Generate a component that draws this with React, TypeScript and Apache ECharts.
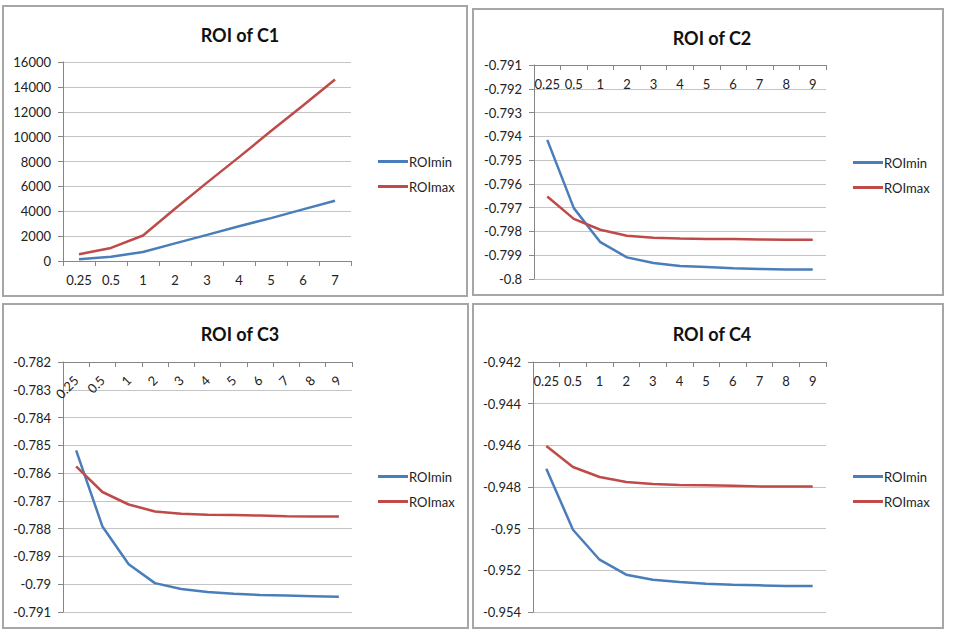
import React, { useEffect, useRef } from "react";
import * as echarts from "echarts";

const catsC1 = ["0.25", "0.5", "1", "2", "3", "4", "5", "6", "7"];
const catsC234 = ["0.25", "0.5", "1", "2", "3", "4", "5", "6", "7", "8", "9"];

const c1Min = [150, 350, 720, 1420, 2100, 2800, 3450, 4150, 4850];
const c1Max = [550, 1050, 2050, 4200, 6300, 8350, 10450, 12500, 14600];

const c2Min = [-0.79415, -0.79702, -0.79845, -0.79909, -0.79933, -0.79945, -0.7995, -0.79955, -0.79958, -0.7996, -0.7996];
const c2Max = [-0.79653, -0.79747, -0.79793, -0.79818, -0.79827, -0.7983, -0.79832, -0.79832, -0.79834, -0.79835, -0.79835];

const c3Min = [-0.78518, -0.78792, -0.78928, -0.78996, -0.79017, -0.79028, -0.79034, -0.79039, -0.79041, -0.79043, -0.79045];
const c3Max = [-0.78576, -0.78668, -0.78713, -0.78738, -0.78746, -0.7875, -0.78751, -0.78753, -0.78755, -0.78756, -0.78756];

const c4Min = [-0.94712, -0.95005, -0.95149, -0.95221, -0.95245, -0.95256, -0.95264, -0.95269, -0.95272, -0.95275, -0.95275];
const c4Max = [-0.94603, -0.94704, -0.94752, -0.94776, -0.94786, -0.9479, -0.94792, -0.94794, -0.94797, -0.94797, -0.94797];

const titles = ["ROI of C1", "ROI of C2", "ROI of C3", "ROI of C4"];
const seriesNames = ["ROImin", "ROImax"];

const FONT = "Lato, 'Open Sans', sans-serif";
const BLUE = "#4A7EBB";
const RED = "#BE4B48";
const AXIS = "#868686";
const GRID = "#c4c4c4";
const LABEL = "#222";

export default function App() {
  const ref = useRef<HTMLDivElement>(null);
  useEffect(() => {
    if (!ref.current) return;
    const chart = echarts.init(ref.current, null, { renderer: "svg" });

    const grids = [
      { left: 63, top: 62, width: 288, height: 199 },
      { left: 534, top: 65, width: 292, height: 214 },
      { left: 63, top: 362, width: 289, height: 250 },
      { left: 533, top: 362, width: 293, height: 250 },
    ];
    const titlePos = [
      [235, 21],
      [707, 24],
      [235, 320],
      [707, 320],
    ];
    const legendPos = [
      [373, 150],
      [848, 151],
      [373, 465],
      [848, 465],
    ];
    const fmt = (v: number) => String(+v.toFixed(3));

    const xAxes = [0, 1, 2, 3].map((i) => {
      const top = i > 0;
      const rot = i === 2;
      return {
        type: "category",
        gridIndex: i,
        data: i === 0 ? catsC1 : catsC234,
        boundaryGap: true,
        position: top ? "top" : "bottom",
        axisLine: { show: true, lineStyle: { color: AXIS, width: 1 } },
        axisTick: { show: true, inside: top, length: 5, lineStyle: { color: AXIS } },
        axisLabel: {
          inside: top,
          margin: rot ? 16 : 12,
          rotate: rot ? -45 : 0,
          align: rot ? "right" : undefined,
          verticalAlign: rot ? "middle" : undefined,
          color: LABEL,
          fontSize: 13,
          fontFamily: FONT,
          interval: 0,
        },
        splitLine: { show: false },
      };
    });

    const yRanges = [
      [0, 16000, 2000],
      [-0.8, -0.791, 0.001],
      [-0.791, -0.782, 0.001],
      [-0.954, -0.942, 0.002],
    ];
    const yAxes = yRanges.map((r, i) => ({
      type: "value",
      gridIndex: i,
      min: r[0],
      max: r[1],
      interval: r[2],
      axisLine: { show: true, lineStyle: { color: AXIS, width: 1 } },
      axisTick: { show: true, inside: false, length: 5, lineStyle: { color: AXIS } },
      axisLabel: {
        margin: 12,
        color: LABEL,
        fontSize: 13,
        fontFamily: FONT,
        formatter: i === 0 ? (v: number) => String(v) : fmt,
      },
      splitLine: { show: true, lineStyle: { color: GRID, width: 1 } },
    }));

    const dataSets = [
      [c1Min, c1Max],
      [c2Min, c2Max],
      [c3Min, c3Max],
      [c4Min, c4Max],
    ];
    const series: any[] = [];
    dataSets.forEach((pair, i) => {
      pair.forEach((d, j) => {
        series.push({
          type: "line",
          name: seriesNames[j],
          xAxisIndex: i,
          yAxisIndex: i,
          data: d,
          symbol: "none",
          smooth: false,
          lineStyle: { color: j === 0 ? BLUE : RED, width: 2.5 },
          itemStyle: { color: j === 0 ? BLUE : RED },
        });
      });
    });

    const frames = [
      [3, 6, 464, 290],
      [473, 9, 470, 286],
      [3, 304, 465, 324],
      [473, 304, 470, 324],
    ];

    chart.setOption({
      animation: false,
      backgroundColor: "#ffffff",
      title: titles.map((t, i) => ({
        text: t,
        left: titlePos[i][0],
        top: titlePos[i][1],
        textAlign: "center",
        textStyle: { fontFamily: FONT, fontSize: 18, fontWeight: "bold", color: "#111" },
      })),
      legend: legendPos.map((p) => ({
        data: seriesNames,
        orient: "vertical",
        left: p[0],
        top: p[1],
        itemWidth: 30,
        itemHeight: 3,
        itemGap: 12,
        icon: "rect",
        textStyle: { fontFamily: FONT, fontSize: 13, color: LABEL, padding: [0, 0, 0, -4] },
      })),
      grid: grids,
      xAxis: xAxes,
      yAxis: yAxes,
      series,
      graphic: frames.map((f) => ({
        type: "rect",
        shape: { x: f[0], y: f[1], width: f[2], height: f[3] },
        style: { fill: "none", stroke: "#a6a6a6", lineWidth: 2 },
        silent: true,
      })),
    });
    return () => chart.dispose();
  }, []);
  return (
    <div
      ref={ref}
      style={{ position: "absolute", left: 0, top: 0, width: 953, height: 642 }}
    />
  );
}
